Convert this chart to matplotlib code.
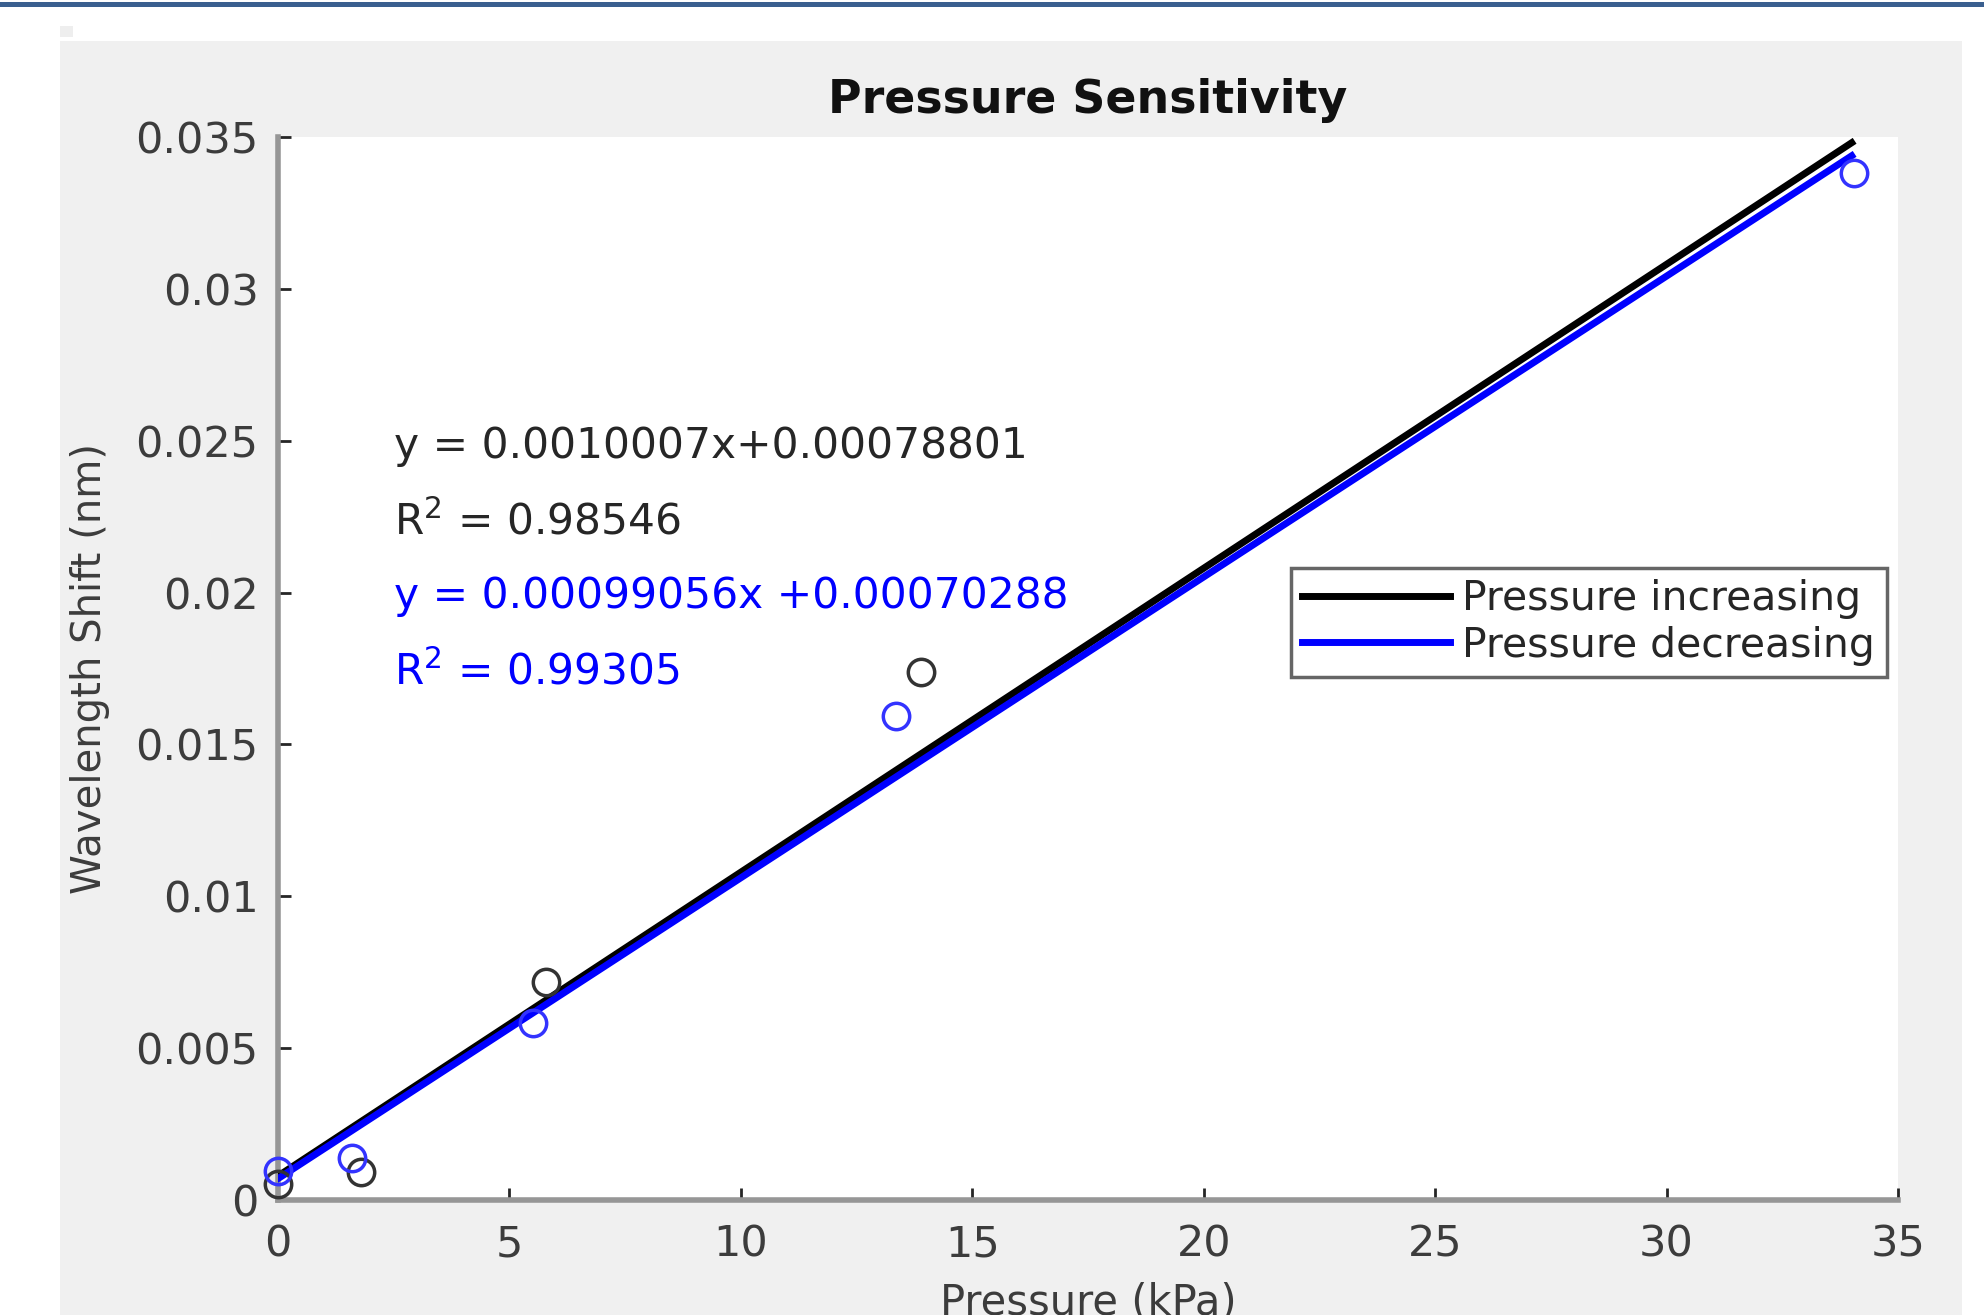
import matplotlib.pyplot as plt
from matplotlib.patches import Rectangle
import numpy as np

plt.rcParams['font.family'] = ['DejaVu Sans']

# measured points (pressure in kPa, wavelength shift in nm)
inc_x = [0.0, 1.8, 5.8, 13.9]
inc_y = [0.00054, 0.00092, 0.00717, 0.01738]
dec_x = [0.0, 1.6, 5.5, 13.35, 34.05]
dec_y = [0.00096, 0.00138, 0.00583, 0.01592, 0.03383]

# linear fits as printed on the chart
inc_fit = (0.0010007, 0.00078801, 0.98546)
dec_fit = (0.00099056, 0.00070288, 0.99305)
fit_range = [0.0, 34.0]

xticks = [0, 5, 10, 15, 20, 25, 30, 35]
yticks = [0, 0.005, 0.01, 0.015, 0.02, 0.025, 0.03, 0.035]
ytick_labels = ['0', '0.005', '0.01', '0.015', '0.02', '0.025', '0.03', '0.035']

W, H = 1984, 1315
fig = plt.figure(figsize=(W / 100, H / 100), dpi=100, facecolor='white')

# page decorations: gray figure panel, blue band at top
fig.patches.append(Rectangle((60 / W, 0), 1902 / W, 1 - 41 / H, transform=fig.transFigure,
                             facecolor='#f0f0f0', edgecolor='none', zorder=-5))
fig.patches.append(Rectangle((60 / W, 1 - 37 / H), 13 / W, 11 / H, transform=fig.transFigure,
                             facecolor='#eeeeee', edgecolor='none', zorder=-5))
fig.patches.append(Rectangle((0, 1 - 7 / H), 1, 5 / H, transform=fig.transFigure,
                             facecolor='#3a5f8f', edgecolor='none', zorder=-5))

ax = fig.add_axes([278 / W, 1 - 1200 / H, 1620 / W, 1063 / H])
ax.set_facecolor('white')

xs = np.array(fit_range)
ax.plot(xs, inc_fit[0] * xs + inc_fit[1], color='black', lw=5, label='Pressure increasing', zorder=3)
ax.plot(xs, dec_fit[0] * xs + dec_fit[1], color='blue', lw=5, label='Pressure decreasing', zorder=4)
ax.plot(inc_x, inc_y, 'o', mfc='none', mec='#333333', ms=19, mew=2.5, zorder=5, clip_on=False)
ax.plot(dec_x, dec_y, 'o', mfc='none', mec='#3333ff', ms=19, mew=2.5, zorder=5, clip_on=False)

tx = 2.5
ax.text(tx, 0.02483, 'y = %.7fx+%.8f' % (inc_fit[0], inc_fit[1]), fontsize=30.5, color='#262626', va='center')
ax.text(tx, 0.02233, '$\\mathregular{R^2}$ = %.5f' % inc_fit[2], fontsize=30.5, color='#262626', va='center')
ax.text(tx, 0.01988, 'y = %.8fx +%.8f' % (dec_fit[0], dec_fit[1]), fontsize=30.5, color='blue', va='center')
ax.text(tx, 0.01738, '$\\mathregular{R^2}$ = %.5f' % dec_fit[2], fontsize=30.5, color='blue', va='center')

ax.set_xlim(0, 35)
ax.set_ylim(0, 0.035)
ax.set_xticks(xticks)
ax.set_yticks(yticks)
ax.set_yticklabels(ytick_labels)

for side in ['top', 'right']:
    ax.spines[side].set_visible(False)
for side in ['left', 'bottom']:
    ax.spines[side].set_color('#969696')
    ax.spines[side].set_linewidth(4)

ax.tick_params(direction='in', length=9, width=2, color='#262626', labelcolor='#3c3c3c', labelsize=31)
ax.tick_params(axis='x', pad=17)
ax.tick_params(axis='y', pad=14)

ax.set_title('Pressure Sensitivity', fontsize=33, fontweight='bold', color='#111111', pad=17)
ax.set_xlabel('Pressure (kPa)', fontsize=30, color='#3c3c3c', labelpad=12)
ax.set_ylabel('Wavelength Shift (nm)', fontsize=29, color='#3c3c3c', labelpad=18)

leg = ax.legend(loc='upper left', bbox_to_anchor=((1291 - 278) / 1620, (1200 - 568) / 1063),
                fontsize=29.5, frameon=True, fancybox=False, handlelength=3.6,
                handletextpad=0.3, borderpad=0.28, labelspacing=0.15, borderaxespad=0)
leg.get_frame().set_edgecolor('#404040')
leg.get_frame().set_linewidth(2.5)
for t in leg.get_texts():
    t.set_color('#262626')

fig.savefig('out.png', dpi=100, facecolor=fig.get_facecolor())
